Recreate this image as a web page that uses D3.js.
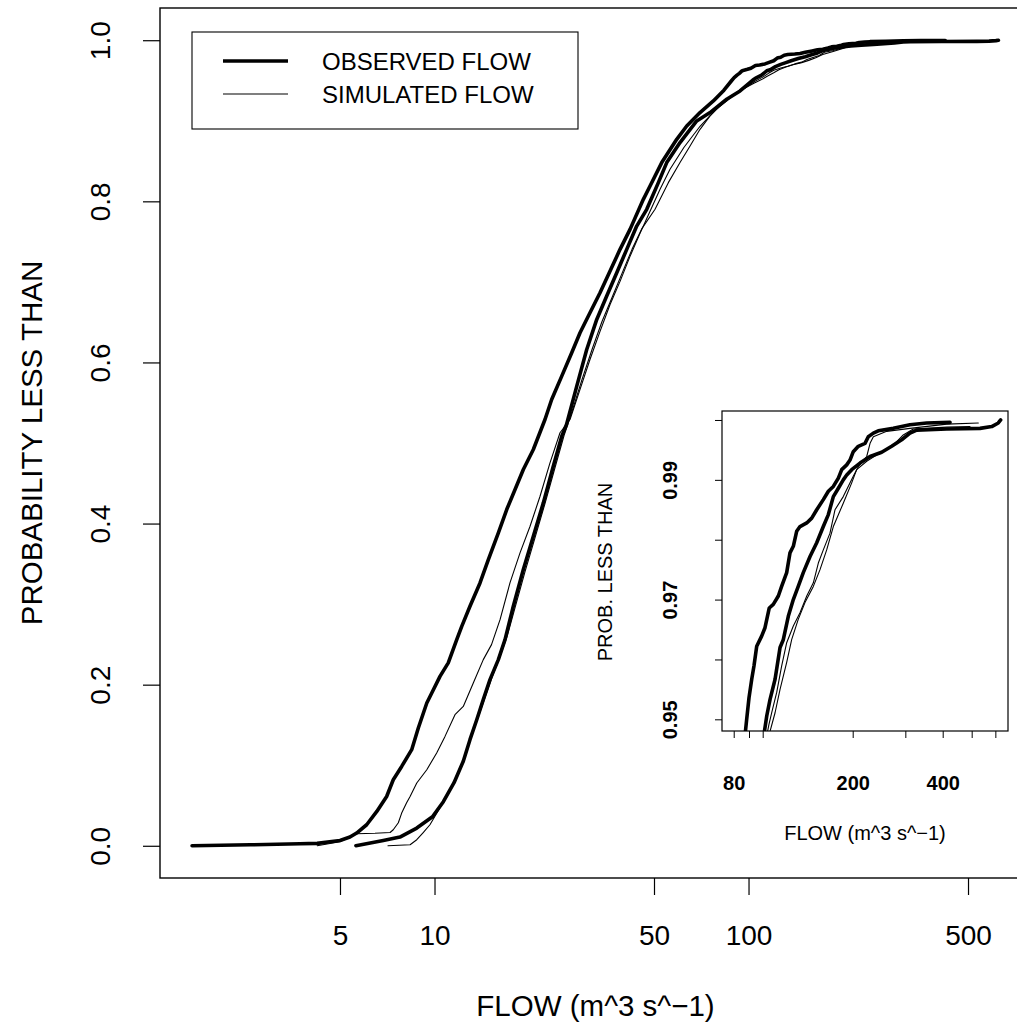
<!DOCTYPE html>
<html>
<head>
<meta charset="utf-8">
<script src="https://cdn.jsdelivr.net/npm/d3@7"></script>
<style>
  body { margin: 0; background: #fff; }
  svg { display: block; }
  text { font-family: "Liberation Sans", Arial, Helvetica, sans-serif; fill: #000; }
</style>
</head>
<body>
<div id="chart"></div>
<script>
var obsA = [[1.69,0],[2.59,0.0012],[3.73,0.0025],[4.23,0.003],[5.00,0.0066],[5.38,0.0108],[5.65,0.0158],[6.08,0.0261],
  [6.55,0.0426],[7.04,0.0612],[7.39,0.0820],[7.86,0.0985],[8.46,0.1193],[8.88,0.1462],[9.45,0.1773],[9.80,0.1897],
  [10.41,0.2103],[11.06,0.2270],[11.77,0.2559],[12.21,0.2724],[12.97,0.2973],[13.96,0.3263],[14.84,0.3553],[15.97,0.3884],
  [16.98,0.4174],[18.05,0.4422],[19.18,0.4671],[20.64,0.4919],[22.48,0.5292],[23.61,0.5540],[25.42,0.5830],[27.35,0.6120],
  [29.07,0.6369],[31.27,0.6617],[33.66,0.6866],[36.23,0.7134],[38.98,0.7404],[41.94,0.7652],[46.24,0.8025],[48.57,0.8190],
  [52.92,0.8481],[59.07,0.8770],[63.56,0.8935],[70.07,0.9102],[77.26,0.9246],[83.5,0.9380],[88.4,0.95],[90.0,0.9536],
  [91.9,0.9567],[93.5,0.9589],[95.5,0.9622],[99.2,0.9639],[101.8,0.9653],[105.2,0.9686],[108.5,0.9692],[112.8,0.9706],
  [115.7,0.9722],[120.3,0.9745],[123.4,0.9778],[126.6,0.9789],[129.9,0.9814],[133.3,0.9822],[140.4,0.9828],[145.9,0.9836],
  [151.6,0.9850],[159.5,0.9867],[165.8,0.9881],[172.3,0.9889],[179.1,0.9903],[183.8,0.9917],[191.0,0.9925],[195.9,0.9933],
  [200.9,0.9947],[208.8,0.9956],[219.9,0.9961],[225.5,0.9972],[234.5,0.9978],[243.6,0.9982],[273.4,0.9986],[310.9,0.9992],
  [353.6,0.9995],[423.2,0.9996]];

var obsB = [[5.62,0],[6.87,0.0066],[7.76,0.0108],[8.78,0.0220],[9.85,0.036],[10.67,0.0547],[11.54,0.0783],[12.35,0.1050],
  [12.97,0.1317],[13.63,0.1565],[14.30,0.1814],[15.02,0.2062],[15.97,0.2311],[16.77,0.2559],[17.82,0.2973],[19.18,0.3429],
  [20.64,0.3842],[22.21,0.4257],[23.89,0.4712],[25.42,0.5085],[26.33,0.5230],[28.38,0.5706],[30.53,0.6161],[32.86,0.6534],
  [35.35,0.6824],[38.05,0.7114],[40.94,0.7404],[44.05,0.7693],[47.41,0.7901],[51.62,0.8232],[54.89,0.8481],[60.51,0.8729],
  [68.39,0.8998],[75.42,0.9102],[85.21,0.9267],[93.97,0.9370],[103.2,0.9506],[105.8,0.9533],[110.0,0.9567],[114.3,0.9620],
  [117.2,0.9633],[121.8,0.9672],[126.6,0.9700],[131.5,0.9722],[136.7,0.9745],[144.0,0.9772],[151.6,0.9795],[159.5,0.9822],
  [165.8,0.9842],[172.3,0.9872],[179.1,0.9886],[186.0,0.9900],[191.0,0.9908],[198.5,0.9917],[211.6,0.9928],[228.6,0.9939],
  [250.0,0.9946],[270.0,0.9956],[291.6,0.9967],[310.9,0.9978],[327.4,0.9983],[412.6,0.9985],[533.3,0.9986],[583.4,0.9989],
  [613.8,0.9995],[625,1.0]];

var simA = [[4.23,0],[5.00,0.005],[5.65,0.0149],[6.46,0.0155],[7.22,0.0165],[7.39,0.0199],[7.67,0.0286],[7.86,0.0406],
  [8.15,0.0534],[8.36,0.0612],[8.78,0.0779],[9.45,0.0944],[10.16,0.1152],[10.80,0.1358],[11.62,0.1627],[12.35,0.1730],
  [13.29,0.2021],[14.30,0.2311],[15.19,0.2497],[16.17,0.2807],[17.39,0.3263],[18.72,0.3636],[20.15,0.3966],[21.68,0.4339],
  [23.32,0.4754],[25.10,0.5127],[27.01,0.5292],[29.07,0.5665],[31.27,0.6037],[33.66,0.6385],[36.23,0.6720],[38.98,0.7006],
  [41.94,0.7317],[45.13,0.7602],[48.57,0.7876],[52.27,0.8149],[56.23,0.8398],[62.32,0.8671],[70.07,0.8932],[78.77,0.9143],
  [90.57,0.9329],[104.9,0.9491],[107.2,0.9511],[111.4,0.9545],[115.7,0.9589],[120.3,0.9628],[126.6,0.9656],[133.3,0.9678],
  [140.4,0.9706],[147.7,0.9728],[153.5,0.9761],[159.5,0.9783],[167.9,0.9811],[174.5,0.9850],[186.0,0.9872],[200.9,0.9906],
  [208.8,0.9922],[222.8,0.9939],[228.6,0.9961],[234.5,0.9972],[259.9,0.9981],[310.9,0.9986],[412.6,0.9993],[526.2,0.9995]];

var simB = [[7.11,0],[8.36,0.0012],[8.78,0.0075],[9.19,0.0161],[9.67,0.0261],[10.41,0.0472],[10.96,0.0634],[11.71,0.0845],
  [12.42,0.1093],[13.07,0.1342],[13.76,0.1590],[14.48,0.1839],[15.24,0.2087],[16.17,0.2348],[17.02,0.2596],[18.05,0.2957],
  [19.42,0.3404],[20.90,0.3826],[22.48,0.4248],[24.20,0.4696],[25.85,0.5093],[27.41,0.5391],[29.50,0.5789],[31.74,0.6161],
  [34.15,0.6509],[36.76,0.6807],[39.55,0.7106],[42.56,0.7404],[45.80,0.7665],[50.38,0.7901],[55.54,0.8232],[60.51,0.8481],
  [65.13,0.8687],[70.07,0.8894],[75.42,0.9060],[85.21,0.9267],[91.71,0.9350],[104.0,0.9466],[110.0,0.9511],[114.3,0.9550],
  [120.3,0.9595],[125.0,0.9633],[131.5,0.9667],[138.5,0.9695],[147.7,0.9722],[155.5,0.9750],[163.7,0.9783],[172.3,0.9822],
  [186.0,0.9861],[198.5,0.9895],[206.2,0.9917],[222.8,0.9931],[246.8,0.9945],[273.4,0.9958],[295.2,0.9975],[319.0,0.9985],
  [412.6,0.9988],[493.6,0.9989]];

var xTicks = [5, 10, 50, 100, 500];
var yTicks = [0, 0.2, 0.4, 0.6, 0.8, 1.0];
var insetXTicks = [80, 90, 100, 200, 300, 400, 500, 600];
var insetXLabels = [80, 200, 400];
var insetYTicks = [0.95, 0.96, 0.97, 0.98, 0.99, 1.00];
var insetYLabels = [0.95, 0.97, 0.99];
var legendLabels = ["OBSERVED FLOW", "SIMULATED FLOW"];

var series = [
  {data: obsA, w: 3.6},
  {data: obsB, w: 3.6},
  {data: simA, w: 1.1},
  {data: simB, w: 1.1}
];

var W = 1017, H = 1024;
var svg = d3.select("#chart").append("svg").attr("width", W).attr("height", H);
svg.append("rect").attr("width", W).attr("height", H).attr("fill", "#fff");

// ---- main plot ----
var box = {l: 160, r: 1031, t: 8, b: 878};
var x = d3.scaleLog().domain([1.336, 793.5]).range([box.l, box.r]);
var y = d3.scaleLinear().domain([-0.04, 1.04]).range([box.b, box.t]);

svg.append("clipPath").attr("id", "clipMain").append("rect")
  .attr("x", box.l).attr("y", box.t).attr("width", box.r - box.l).attr("height", box.b - box.t);

var line = d3.line().x(d => x(d[0])).y(d => y(d[1]));

var gMain = svg.append("g").attr("clip-path", "url(#clipMain)");
series.forEach(function(s){
  gMain.append("path").datum(s.data).attr("d", line)
    .attr("fill", "none").attr("stroke", "#000").attr("stroke-width", s.w)
    .attr("stroke-linejoin", "round").attr("stroke-linecap", "round");
});

svg.append("rect").attr("x", box.l).attr("y", box.t)
  .attr("width", box.r - box.l).attr("height", box.b - box.t)
  .attr("fill", "none").attr("stroke", "#000").attr("stroke-width", 1.4);

var xAxis = svg.append("g").attr("transform", "translate(0," + box.b + ")")
  .call(d3.axisBottom(x).tickValues(xTicks).tickFormat(d3.format("d")).tickSize(17).tickPadding(30));
xAxis.select(".domain").remove();
xAxis.selectAll("line").attr("stroke-width", 1.2);
xAxis.selectAll("text").attr("font-size", 28).attr("font-family", null);

var yAxis = svg.append("g").attr("transform", "translate(" + box.l + ",0)")
  .call(d3.axisLeft(y).tickValues(yTicks).tickFormat(d3.format(".1f")).tickSize(17));
yAxis.select(".domain").remove();
yAxis.selectAll("line").attr("stroke-width", 1.2);
yAxis.selectAll("text").attr("font-size", 28).attr("font-family", null)
  .attr("transform", "rotate(-90)").attr("x", 0).attr("y", -50).attr("dy", null)
  .attr("text-anchor", "middle");

svg.append("text").attr("x", (box.l + box.r) / 2).attr("y", 1016)
  .attr("text-anchor", "middle").attr("font-size", 29.5).text("FLOW (m^3 s^\u22121)");
svg.append("text").attr("transform", "translate(42," + ((box.t + box.b) / 2) + ") rotate(-90)")
  .attr("text-anchor", "middle").attr("font-size", 29.5).text("PROBABILITY LESS THAN");

// legend
var leg = svg.append("g");
leg.append("rect").attr("x", 192).attr("y", 32).attr("width", 386).attr("height", 97)
  .attr("fill", "#fff").attr("stroke", "#000").attr("stroke-width", 1.1);
legendLabels.forEach(function(lab, i){
  var ly = 61 + i * 33;
  leg.append("line").attr("x1", 223).attr("x2", 288).attr("y1", ly).attr("y2", ly)
    .attr("stroke", "#000").attr("stroke-width", i === 0 ? 3.6 : 1.1);
  leg.append("text").attr("x", 322).attr("y", ly + 9).attr("font-size", 24).text(lab);
});

// ---- inset ----
var ib = {l: 722, r: 1008, t: 411, b: 731};
var ix = d3.scaleLog().domain([73.1, 661.4]).range([ib.l, ib.r]);
var iy = d3.scaleLinear().domain([0.94805, 1.0015]).range([ib.b, ib.t]);

svg.append("clipPath").attr("id", "clipInset").append("rect")
  .attr("x", ib.l).attr("y", ib.t).attr("width", ib.r - ib.l).attr("height", ib.b - ib.t);

var iline = d3.line().x(d => ix(d[0])).y(d => iy(d[1]));
var gIn = svg.append("g").attr("clip-path", "url(#clipInset)");
series.forEach(function(s){
  gIn.append("path").datum(s.data).attr("d", iline)
    .attr("fill", "none").attr("stroke", "#000").attr("stroke-width", s.w)
    .attr("stroke-linejoin", "round").attr("stroke-linecap", "round");
});

svg.append("rect").attr("x", ib.l).attr("y", ib.t)
  .attr("width", ib.r - ib.l).attr("height", ib.b - ib.t)
  .attr("fill", "none").attr("stroke", "#000").attr("stroke-width", 1.2);

var ixAxis = svg.append("g").attr("transform", "translate(0," + ib.b + ")")
  .call(d3.axisBottom(ix).tickValues(insetXTicks)
    .tickFormat(d => insetXLabels.indexOf(d) >= 0 ? d : "").tickSize(7).tickPadding(38));
ixAxis.select(".domain").remove();
ixAxis.selectAll("text").attr("font-size", 20).attr("font-weight", "bold").attr("font-family", null);

var iyAxis = svg.append("g").attr("transform", "translate(" + ib.l + ",0)")
  .call(d3.axisLeft(iy).tickValues(insetYTicks)
    .tickFormat(d => insetYLabels.some(v => Math.abs(v - d) < 1e-9) ? d3.format(".2f")(d) : "").tickSize(7));
iyAxis.select(".domain").remove();
iyAxis.selectAll("text").attr("font-size", 20).attr("font-weight", "bold").attr("font-family", null)
  .attr("transform", "rotate(-90)").attr("x", 0).attr("y", -45).attr("dy", null)
  .attr("text-anchor", "middle");

svg.append("text").attr("x", 865).attr("y", 840).attr("text-anchor", "middle")
  .attr("font-size", 20).text("FLOW (m^3 s^\u22121)");
svg.append("text").attr("transform", "translate(612,572) rotate(-90)")
  .attr("text-anchor", "middle").attr("font-size", 20).text("PROB. LESS THAN");
</script>
</body>
</html>
